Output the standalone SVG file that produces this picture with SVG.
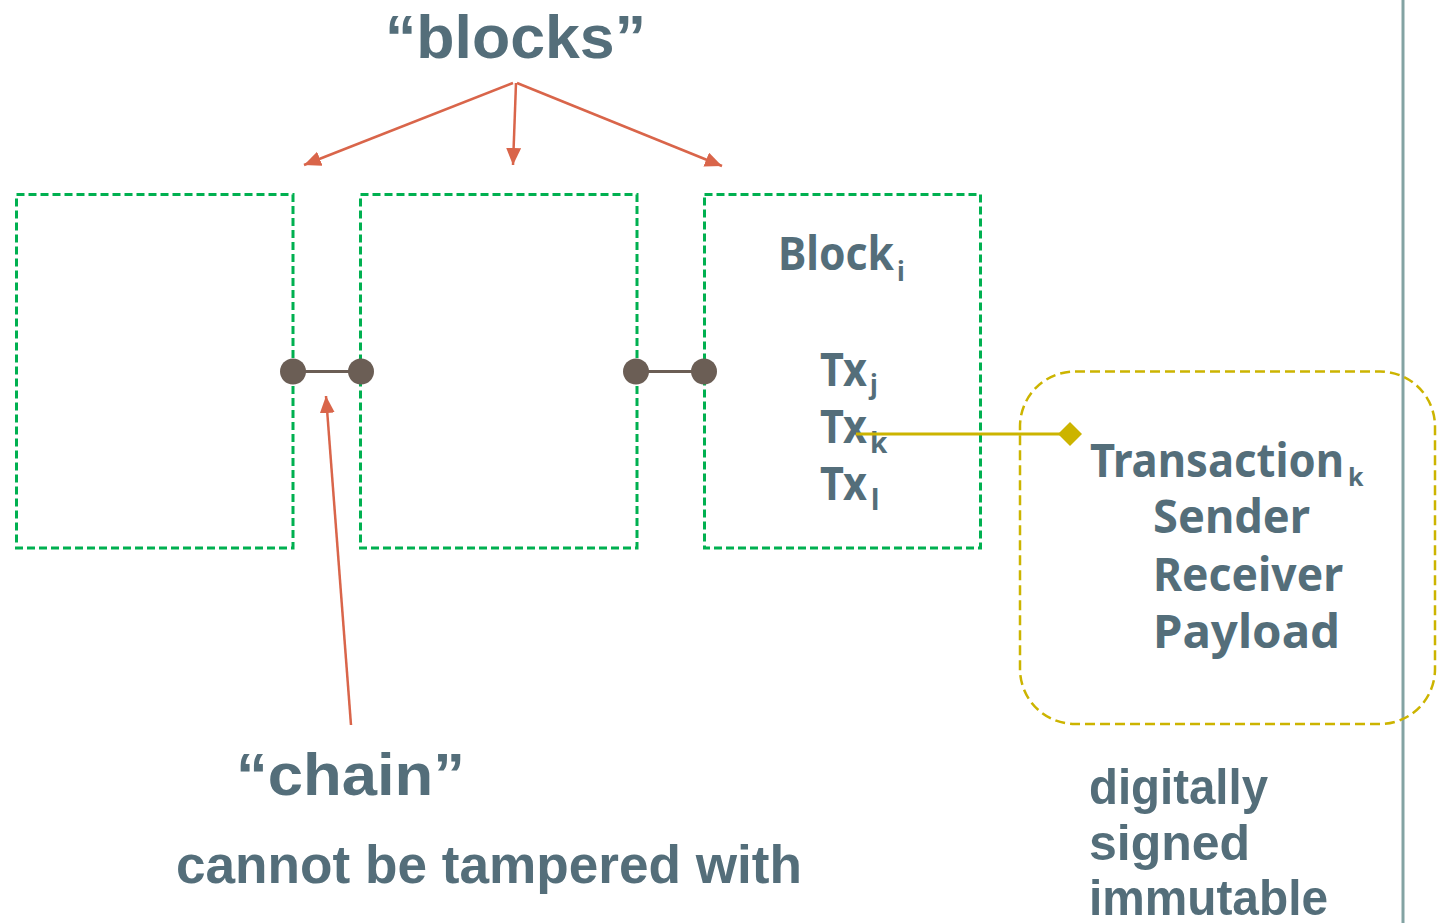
<svg xmlns="http://www.w3.org/2000/svg" width="1445" height="923" viewBox="0 0 1445 923">
<style>
.blk{fill:none;stroke:#00B050;stroke-width:3;stroke-dasharray:8 4}
.ar{fill:none;stroke:#D9654A;stroke-width:2.5}
.t{fill:#546E7A;font-family:"Liberation Sans",Arial,sans-serif;font-weight:bold}
.n{fill:#546E7A;font-family:"Noto Sans","Liberation Sans",sans-serif;font-weight:bold}
.dot{fill:#6B5E55}
</style>
<defs>
<marker id="ah" markerUnits="userSpaceOnUse" markerWidth="18" markerHeight="16" refX="17" refY="7.5" orient="auto">
<path d="M0,0 L17,7.5 L0,15 z" fill="#D9654A"/>
</marker>
</defs>
<rect width="1445" height="923" fill="#fff"/>
<line x1="1403" y1="0" x2="1403" y2="923" stroke="#83A3A3" stroke-width="3"/>
<g id="block1"><rect class="blk" x="16.5" y="194.5" width="276.5" height="353.5"/></g>
<g id="block2"><rect class="blk" x="360.5" y="194.5" width="276.5" height="353.5"/></g>
<g id="block3"><rect class="blk" x="704.5" y="194.5" width="276" height="353.5"/>
<text class="n" x="778" y="270" font-size="46" textLength="116" lengthAdjust="spacingAndGlyphs">Block</text>
<text class="n" x="897" y="281" font-size="26">i</text>
<text class="n" x="820" y="386" font-size="46" textLength="47" lengthAdjust="spacingAndGlyphs">Tx</text><text class="n" x="870" y="394" font-size="26">j</text>
<text class="n" x="820" y="443" font-size="46" textLength="47" lengthAdjust="spacingAndGlyphs">Tx</text><text class="n" x="870" y="453" font-size="28">k</text>
<text class="n" x="820" y="500" font-size="46" textLength="47" lengthAdjust="spacingAndGlyphs">Tx</text><text class="n" x="871" y="510" font-size="28">l</text>
</g>
<g id="transaction">
<rect x="1020" y="371.5" width="415" height="352.5" rx="55" ry="55" fill="none" stroke="#CCB400" stroke-width="2.5" stroke-dasharray="10 5"/>
<text class="n" x="1090" y="477" font-size="46" textLength="254" lengthAdjust="spacingAndGlyphs">Transaction</text>
<text class="n" x="1348" y="486" font-size="25">k</text>
<text class="n" x="1153" y="533" font-size="46" textLength="157" lengthAdjust="spacingAndGlyphs">Sender</text>
<text class="n" x="1153" y="591" font-size="46" textLength="190" lengthAdjust="spacingAndGlyphs">Receiver</text>
<text class="n" x="1153" y="648" font-size="46" textLength="187" lengthAdjust="spacingAndGlyphs">Payload</text>
</g>
<g id="labels">
<text class="t" x="385" y="58" font-size="62" textLength="261" lengthAdjust="spacingAndGlyphs">“blocks”</text>
<text class="t" x="236" y="795" font-size="60" textLength="229" lengthAdjust="spacingAndGlyphs">“chain”</text>
<text class="t" x="176" y="883" font-size="54" textLength="626" lengthAdjust="spacingAndGlyphs">cannot be tampered with</text>
<text class="t" x="1089" y="804" font-size="50" textLength="179" lengthAdjust="spacingAndGlyphs">digitally</text>
<text class="t" x="1089" y="860" font-size="50">signed</text>
<text class="t" x="1089" y="915" font-size="50" textLength="239" lengthAdjust="spacingAndGlyphs">immutable</text>
</g>
<g id="connectors">
<line class="ar" x1="513" y1="83" x2="304" y2="165" marker-end="url(#ah)"/>
<line class="ar" x1="516" y1="83" x2="513" y2="165" marker-end="url(#ah)"/>
<line class="ar" x1="517" y1="83" x2="722" y2="166" marker-end="url(#ah)"/>
<line class="ar" x1="351" y1="725" x2="326" y2="396" marker-end="url(#ah)"/>
<line x1="293" y1="371.5" x2="361" y2="371.5" stroke="#6B5E55" stroke-width="3"/>
<line x1="636" y1="371.5" x2="704" y2="371.5" stroke="#6B5E55" stroke-width="3"/>
<circle class="dot" cx="293" cy="371.5" r="13"/>
<circle class="dot" cx="361" cy="371.5" r="13"/>
<circle class="dot" cx="636" cy="371.5" r="13"/>
<circle class="dot" cx="704" cy="371.5" r="13"/>
<line x1="856" y1="434" x2="1060" y2="434" stroke="#CCB400" stroke-width="3"/>
<path d="M1058,434 L1070,422 L1082,434 L1070,446 z" fill="#CCB400"/>
</g>
</svg>
